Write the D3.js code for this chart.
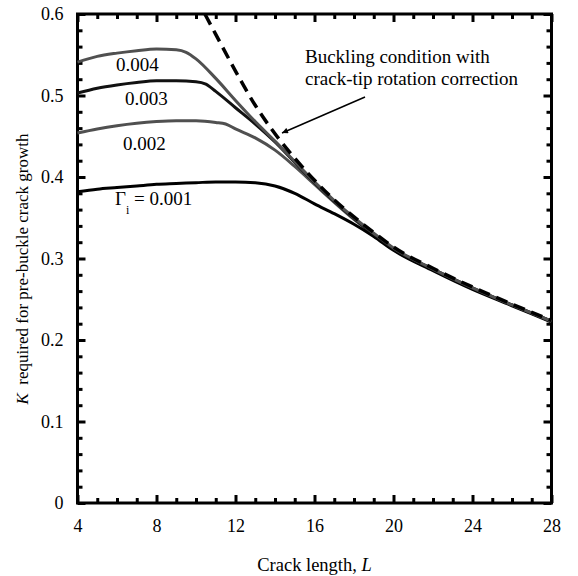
<!DOCTYPE html>
<html>
<head>
<meta charset="utf-8">
<script src="https://cdn.jsdelivr.net/npm/d3@7"></script>
<style>
  body { margin: 0; background: #fff; }
  text { font-family: "Liberation Serif", "Times New Roman", serif; fill: #000; }
</style>
</head>
<body>
<div id="chart"></div>
<script>
// crack length L and K values
const L004 = [4, 5, 6, 7, 8, 9, 9.5, 10, 11, 12, 13, 14, 15, 16, 17, 18, 19, 20, 22, 24, 26, 28];
const K004 = [0.541, 0.548, 0.552, 0.555, 0.557, 0.556, 0.553, 0.545, 0.521, 0.494, 0.468, 0.444, 0.419, 0.394, 0.371, 0.350, 0.331, 0.313, 0.287, 0.264, 0.243, 0.223];

const L003 = [4, 5, 6, 7, 8, 9, 10, 10.5, 11, 12, 13, 14, 15, 16, 17, 18, 19, 20, 22, 24, 26, 28];
const K003 = [0.503, 0.509, 0.513, 0.516, 0.518, 0.518, 0.517, 0.514, 0.505, 0.485, 0.465, 0.443, 0.418, 0.393, 0.370, 0.349, 0.330, 0.312, 0.287, 0.264, 0.243, 0.223];

const L002 = [4, 5, 6, 7, 8, 9, 10, 11, 11.5, 12, 13, 14, 15, 16, 17, 18, 19, 20, 22, 24, 26, 28];
const K002 = [0.454, 0.459, 0.463, 0.466, 0.468, 0.469, 0.469, 0.467, 0.465, 0.459, 0.448, 0.433, 0.413, 0.391, 0.369, 0.348, 0.329, 0.311, 0.286, 0.263, 0.243, 0.223];

const L001 = [4, 5, 6, 7, 8, 9, 10, 11, 12, 13, 14, 15, 16, 17, 18, 19, 20, 22, 24, 26, 28];
const K001 = [0.382, 0.385, 0.387, 0.389, 0.391, 0.392, 0.393, 0.394, 0.394, 0.393, 0.389, 0.380, 0.367, 0.355, 0.342, 0.327, 0.310, 0.285, 0.262, 0.242, 0.222];

// buckling condition with crack-tip rotation correction (dashed)
const Lbuck = [10.45, 11, 12, 13, 14, 15, 16, 17, 18, 19, 20, 22, 24, 26, 28];
const Kbuck = [0.600, 0.575, 0.530, 0.488, 0.453, 0.423, 0.396, 0.372, 0.351, 0.332, 0.314, 0.288, 0.265, 0.244, 0.224];

const xTicks = [4, 8, 12, 16, 20, 24, 28];
const yTicks = [0, 0.1, 0.2, 0.3, 0.4, 0.5, 0.6];

const width = 578, height = 576;
const mLeft = 77.5, mRight = 551.5, mTop = 14, mBottom = 503;

const svg = d3.select('#chart')
  .append('svg')
    .attr('width', width)
    .attr('height', height);

const x = d3.scaleLinear().domain([4, 28]).range([mLeft, mRight]);
const y = d3.scaleLinear().domain([0, 0.6]).range([mBottom, mTop]);

const xMinor = d3.range(4, 28.01, 1).filter(v => !xTicks.includes(v));
const yMinor = d3.range(0, 0.601, 0.02).filter(v => yTicks.every(t => Math.abs(t - v) > 1e-6));

function styleAxis(g) {
  g.select('.domain').remove();
  g.selectAll('.tick line').attr('stroke', '#000').attr('stroke-width', 3);
  g.selectAll('.tick text')
    .attr('font-family', '"Liberation Serif", "Times New Roman", serif')
    .attr('font-size', 18)
    .attr('fill', '#000');
}

// bottom / top
svg.append('g').attr('transform', `translate(0,${mBottom})`)
  .call(d3.axisBottom(x).tickValues(xTicks).tickSize(-8).tickPadding(16).tickFormat(d3.format('d')))
  .call(styleAxis);
svg.append('g').attr('transform', `translate(0,${mBottom})`)
  .call(d3.axisBottom(x).tickValues(xMinor).tickSize(-5).tickFormat(''))
  .call(styleAxis);
svg.append('g').attr('transform', `translate(0,${mTop})`)
  .call(d3.axisTop(x).tickValues(xTicks).tickSize(-8).tickFormat(''))
  .call(styleAxis);
svg.append('g').attr('transform', `translate(0,${mTop})`)
  .call(d3.axisTop(x).tickValues(xMinor).tickSize(-5).tickFormat(''))
  .call(styleAxis);

// left / right
svg.append('g').attr('transform', `translate(${mLeft},0)`)
  .call(d3.axisLeft(y).tickValues(yTicks).tickSize(-8).tickPadding(14).tickFormat(d => d === 0 ? '0' : d3.format('.1f')(d)))
  .call(styleAxis);
svg.append('g').attr('transform', `translate(${mLeft},0)`)
  .call(d3.axisLeft(y).tickValues(yMinor).tickSize(-5).tickFormat(''))
  .call(styleAxis);
svg.append('g').attr('transform', `translate(${mRight},0)`)
  .call(d3.axisRight(y).tickValues(yTicks).tickSize(-8).tickFormat(''))
  .call(styleAxis);
svg.append('g').attr('transform', `translate(${mRight},0)`)
  .call(d3.axisRight(y).tickValues(yMinor).tickSize(-5).tickFormat(''))
  .call(styleAxis);

// frame
svg.append('rect')
  .attr('x', mLeft)
  .attr('y', mTop)
  .attr('width', mRight - mLeft)
  .attr('height', mBottom - mTop)
  .attr('fill', 'none')
  .attr('stroke', '#000')
  .attr('stroke-width', 3);

const line = d3.line()
  .x(d => x(d[0]))
  .y(d => y(d[1]))
  .curve(d3.curveMonotoneX);

const series = [
  { L: L002, K: K002, color: '#505050' },
  { L: L001, K: K001, color: '#000' },
  { L: L003, K: K003, color: '#111' },
  { L: L004, K: K004, color: '#505050' }
];

svg.append('g')
  .selectAll('path')
  .data(series)
  .join('path')
    .attr('d', s => line(s.L.map((v, i) => [v, s.K[i]])))
    .attr('fill', 'none')
    .attr('stroke', s => s.color)
    .attr('stroke-width', 3);

svg.append('path')
  .attr('d', line(Lbuck.map((v, i) => [v, Kbuck[i]])))
  .attr('fill', 'none')
  .attr('stroke', '#000')
  .attr('stroke-width', 3.5)
  .attr('stroke-dasharray', '12,7');

// curve labels
const lbl = svg.append('g').attr('font-size', 19);
lbl.append('text').attr('x', 116).attr('y', 71).text('0.004');
lbl.append('text').attr('x', 125).attr('y', 105).text('0.003');
lbl.append('text').attr('x', 123).attr('y', 150).text('0.002');
const g1 = lbl.append('text').attr('x', 115).attr('y', 205);
g1.append('tspan').text('Γ');
g1.append('tspan').attr('font-size', 12).attr('dy', 9).text('i');
g1.append('tspan').attr('dy', -9).text(' = 0.001');

// annotation
svg.append('defs').append('marker')
    .attr('id', 'arrow')
    .attr('viewBox', '0 0 10 10')
    .attr('refX', 10)
    .attr('refY', 5)
    .attr('markerWidth', 7)
    .attr('markerHeight', 6)
    .attr('markerUnits', 'userSpaceOnUse')
    .attr('orient', 'auto')
  .append('path')
    .attr('d', 'M0,0 L10,5 L0,10 z')
    .attr('fill', '#000');

svg.append('line')
  .attr('x1', 365).attr('y1', 97)
  .attr('x2', 282).attr('y2', 133)
  .attr('stroke', '#000')
  .attr('stroke-width', 1.5)
  .attr('marker-end', 'url(#arrow)');

svg.append('text').attr('x', 305).attr('y', 63).attr('font-size', 19).text('Buckling condition with');
svg.append('text').attr('x', 305).attr('y', 85).attr('font-size', 19).text('crack-tip rotation correction');

// axis titles
const xt = svg.append('text')
  .attr('x', (mLeft + mRight) / 2)
  .attr('y', 571)
  .attr('text-anchor', 'middle')
  .attr('font-size', 18.5);
xt.append('tspan').text('Crack length, ');
xt.append('tspan').attr('font-style', 'italic').text('L');

const yt = svg.append('text')
  .attr('transform', 'translate(28,269) rotate(-90)')
  .attr('text-anchor', 'middle')
  .attr('font-size', 17);
yt.append('tspan').attr('font-style', 'italic').text('K');
yt.append('tspan').text('\u00a0\u00a0required for pre-buckle crack growth');
</script>
</body>
</html>
